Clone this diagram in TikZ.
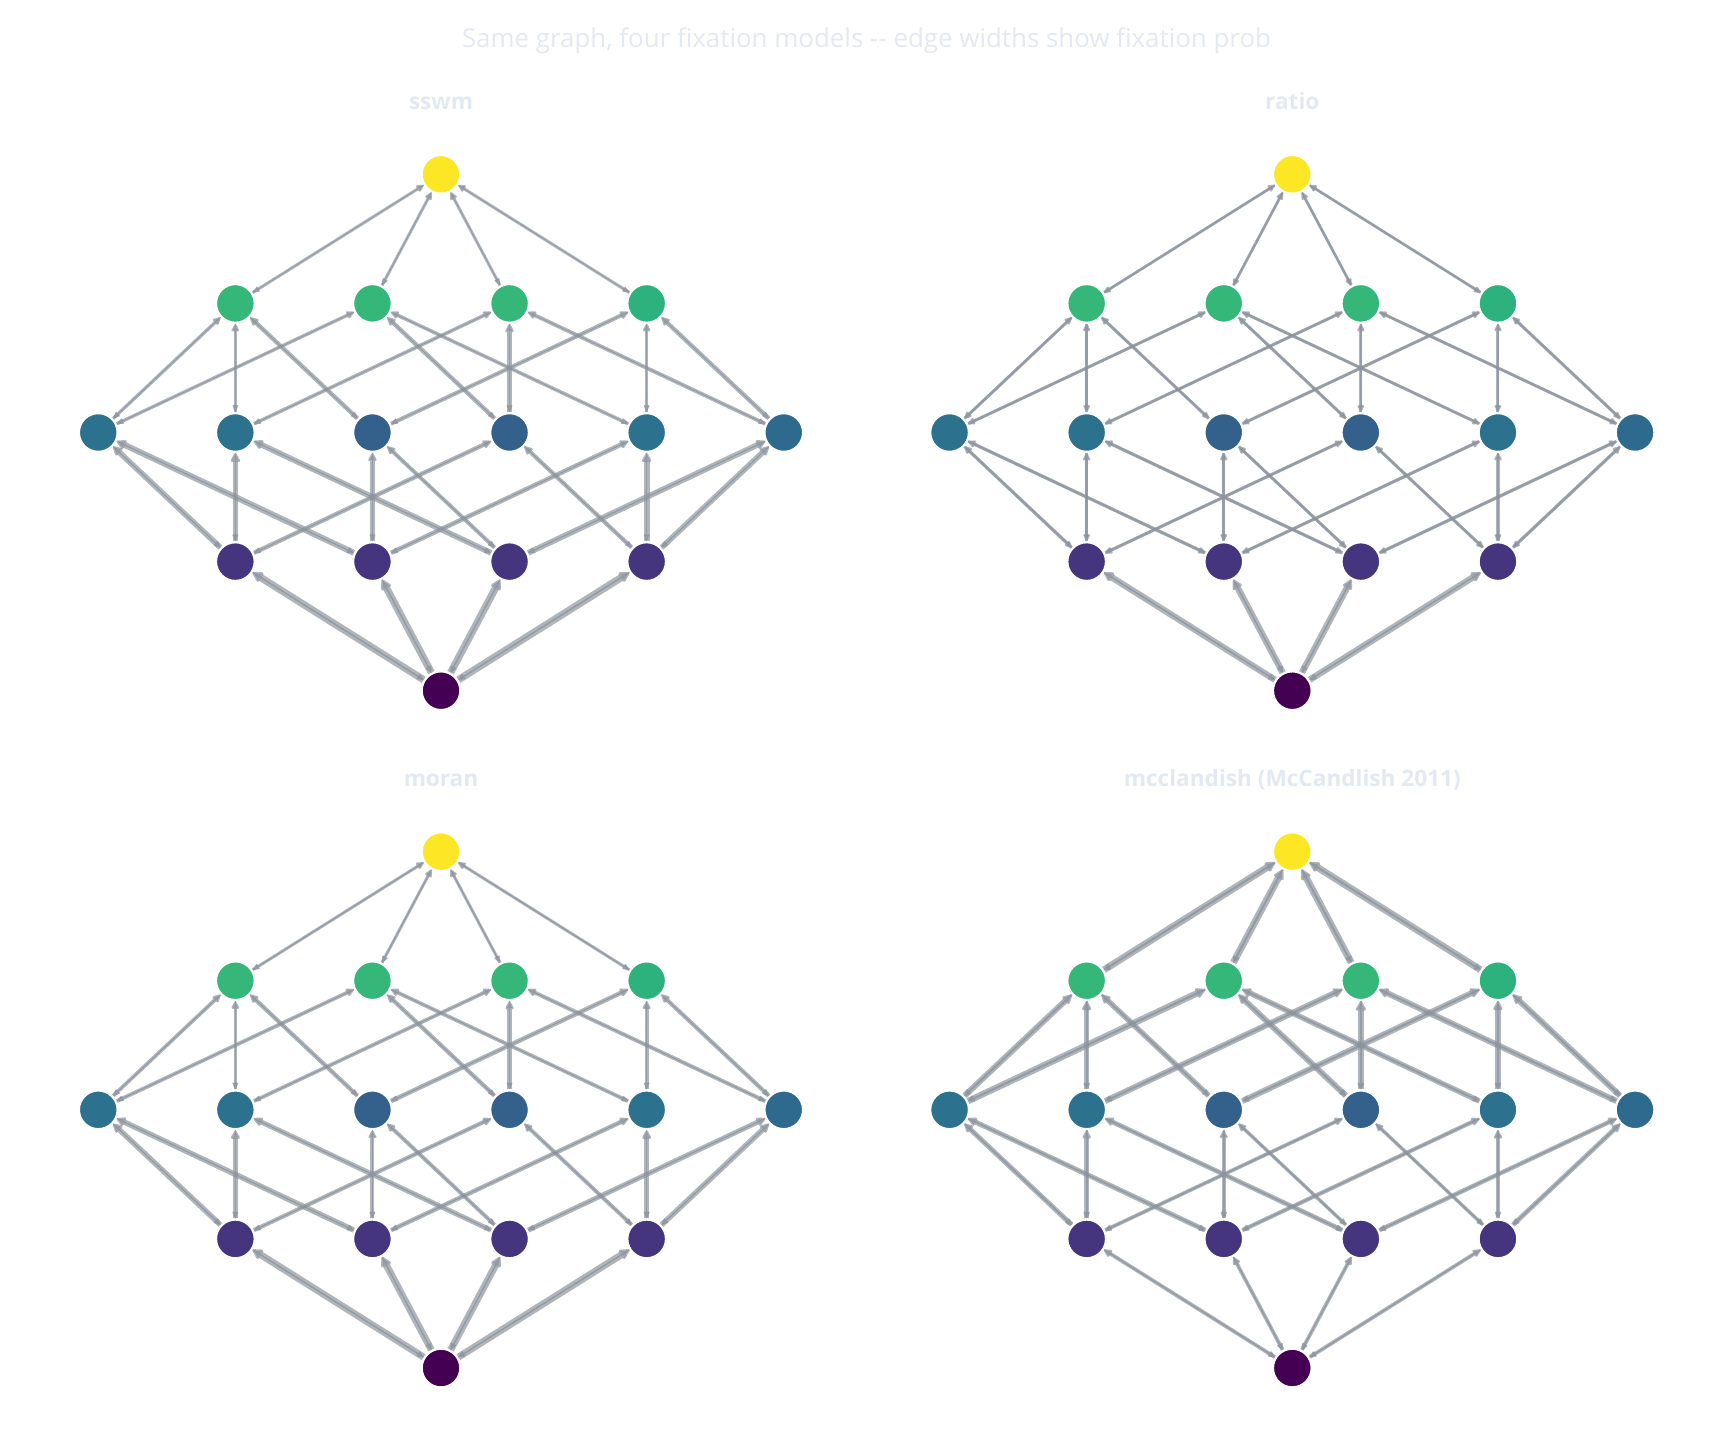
\documentclass[tikz,border=0pt]{standalone}
\usepackage{fontspec}
\setmainfont{Open Sans}
\usetikzlibrary{arrows.meta}
\definecolor{txtc}{HTML}{E3E9F2}
\definecolor{edgec}{RGB}{140,147,157}
\definecolor{cT}{HTML}{FDE725}
\definecolor{cG}{HTML}{35B779}
\definecolor{cGd}{HTML}{2DB27D}
\definecolor{cAt}{HTML}{2C728E}
\definecolor{cAb}{HTML}{33618C}
\definecolor{cAm}{HTML}{2E6A8E}
\definecolor{cP}{HTML}{45357F}
\definecolor{cB}{HTML}{440154}
\tikzset{
  gnode/.style={circle, minimum size=38pt, inner sep=0pt, draw=white, line width=1.5pt, outer sep=1.5pt},
  edgeline/.style={draw=edgec, fill=edgec, opacity=0.68,
    -{Triangle[round, length=7pt 0.65, width=5pt 0.95]}},
  maintitle/.style={text=txtc, font=\fontsize{25.9}{30}\selectfont, inner sep=0pt, anchor=base},
  subtitle/.style={text=txtc, font=\fontsize{22.6}{27}\selectfont\bfseries, inner sep=0pt, anchor=base}
}
\newcommand\mkpanel[3]{% prefix, cx, top y
  \node[gnode, fill=cT] (#1T) at (#2, #3) {};
  \foreach \i/\dx/\c in {1/-205.65/cG, 2/-68.55/cG, 3/68.55/cG, 4/205.65/cGd}
    \node[gnode, fill=\c] (#1G\i) at (#2+\dx, #3+129.1) {};
  \foreach \i/\dx/\c in {1/-342.75/cAt, 2/-205.65/cAt, 3/-68.55/cAb, 4/68.55/cAb, 5/205.65/cAt, 6/342.75/cAm}
    \node[gnode, fill=\c] (#1A\i) at (#2+\dx, #3+258.2) {};
  \foreach \i/\dx in {1/-205.65, 2/-68.55, 3/68.55, 4/205.65}
    \node[gnode, fill=cP] (#1P\i) at (#2+\dx, #3+387.3) {};
  \node[gnode, fill=cB] (#1B) at (#2, #3+516.4) {};
}
\newcommand\edgepair[5]{% prefix, low, high, up width, down width
  \draw[edgeline, line width=#5 pt] (#1#3) -- (#1#2);
  \draw[edgeline, line width=#4 pt] (#1#2) -- (#1#3);
}
\begin{document}
\begin{tikzpicture}[x=1pt, y=-1pt]
\useasboundingbox[fill=white] (0,0) rectangle (1734,1449);

\node[maintitle] (title) at (866.5, 47.5) {Same graph, four fixation models -{}- edge widths show fixation prob};
\node[subtitle] (tsswm) at (441, 109.5) {sswm};
\node[subtitle] (tratio) at (1292.3, 109.5) {ratio};
\node[subtitle] (tmoran) at (441, 786.7) {moran};
\node[subtitle] (tmcc) at (1292.3, 786.7) {mcclandish (McCandlish 2011)};

\mkpanel{s}{441}{174.3}
\mkpanel{r}{1292.3}{174.3}
\mkpanel{m}{441}{851.6}
\mkpanel{c}{1292.3}{851.6}

% sswm
\foreach \lo/\hi/\u/\d in {
  B/P1/7.3/1.5, B/P2/7.3/1.5, B/P3/7.3/1.5, B/P4/7.3/1.5,
  P1/A1/5.7/1.2, P1/A2/5.7/1.2, P1/A4/4.4/1.2,
  P2/A1/6.0/1.2, P2/A3/4.4/1.2, P2/A5/4.6/1.2,
  P3/A2/5.7/1.2, P3/A3/4.0/1.2, P3/A6/5.7/1.2,
  P4/A4/4.2/1.2, P4/A5/5.7/1.2, P4/A6/5.7/1.2,
  A1/G1/3.4/1.0, A1/G2/3.4/1.0, A2/G1/3.4/1.0, A2/G3/3.6/1.0,
  A3/G1/4.4/1.0, A3/G4/4.1/1.0, A4/G2/4.4/1.0, A4/G3/4.6/1.0,
  A5/G2/3.6/1.0, A5/G4/3.4/1.0, A6/G3/3.9/1.0, A6/G4/4.4/1.0,
  G1/T/3.0/0.8, G2/T/3.0/0.8, G3/T/3.0/0.8, G4/T/3.0/0.8}
  {\edgepair{s}{\lo}{\hi}{\u}{\d}}

% ratio
\foreach \lo/\hi/\u/\d in {
  B/P1/6.5/1.6, B/P2/6.5/1.6, B/P3/6.5/1.6, B/P4/6.5/1.6,
  P1/A1/3.3/2.5, P1/A2/3.3/2.5, P1/A4/3.1/2.6,
  P2/A1/3.3/2.5, P2/A3/3.1/2.6, P2/A5/3.1/2.6,
  P3/A2/3.3/2.5, P3/A3/3.0/2.6, P3/A6/3.3/2.5,
  P4/A4/3.0/2.6, P4/A5/3.3/2.5, P4/A6/3.3/2.5,
  A1/G1/3.0/2.5, A1/G2/3.0/2.5, A2/G1/3.0/2.5, A2/G3/3.0/2.5,
  A3/G1/3.1/2.4, A3/G4/3.1/2.4, A4/G2/3.1/2.4, A4/G3/3.1/2.4,
  A5/G2/3.0/2.5, A5/G4/3.0/2.5, A6/G3/3.0/2.5, A6/G4/3.1/2.4,
  G1/T/2.8/2.2, G2/T/2.8/2.2, G3/T/2.8/2.2, G4/T/2.8/2.2}
  {\edgepair{r}{\lo}{\hi}{\u}{\d}}

% moran
\foreach \lo/\hi/\u/\d in {
  B/P1/7.0/1.5, B/P2/7.0/1.5, B/P3/7.0/1.5, B/P4/7.0/1.5,
  P1/A1/5.5/1.3, P1/A2/5.0/1.3, P1/A4/4.2/1.3,
  P2/A1/5.5/1.3, P2/A3/4.0/1.3, P2/A5/4.5/1.3,
  P3/A2/5.0/1.3, P3/A3/4.0/1.3, P3/A6/5.0/1.3,
  P4/A4/4.0/1.3, P4/A5/5.0/1.3, P4/A6/5.5/1.3,
  A1/G1/3.8/1.2, A1/G2/3.8/1.2, A2/G1/3.5/1.2, A2/G3/3.8/1.2,
  A3/G1/4.3/1.2, A3/G4/4.5/1.2, A4/G2/4.3/1.2, A4/G3/4.3/1.2,
  A5/G2/3.8/1.2, A5/G4/3.8/1.2, A6/G3/4.0/1.2, A6/G4/4.2/1.2,
  G1/T/3.0/1.2, G2/T/3.0/1.2, G3/T/3.0/1.2, G4/T/3.0/1.2}
  {\edgepair{m}{\lo}{\hi}{\u}{\d}}

% mcclandish
\foreach \lo/\hi/\u/\d in {
  B/P1/3.8/1.6, B/P2/3.8/1.6, B/P3/3.8/1.6, B/P4/3.8/1.6,
  P1/A1/5.0/2.0, P1/A2/4.5/2.0, P1/A4/3.8/2.0,
  P2/A1/5.0/2.0, P2/A3/3.8/2.0, P2/A5/4.2/2.0,
  P3/A2/4.8/2.0, P3/A3/3.5/2.0, P3/A6/4.5/2.0,
  P4/A4/3.5/2.0, P4/A5/4.5/2.0, P4/A6/4.8/2.0,
  A1/G1/6.0/2.2, A1/G2/6.5/2.2, A2/G1/5.5/2.2, A2/G3/6.0/2.2,
  A3/G1/5.5/2.2, A3/G4/6.0/2.2, A4/G2/6.0/2.2, A4/G3/6.5/2.2,
  A5/G2/5.5/2.2, A5/G4/5.5/2.2, A6/G3/6.0/2.2, A6/G4/6.0/2.2,
  G1/T/7.0/2.2, G2/T/7.0/2.2, G3/T/7.0/2.2, G4/T/7.0/2.2}
  {\edgepair{c}{\lo}{\hi}{\u}{\d}}
\end{tikzpicture}
\end{document}
